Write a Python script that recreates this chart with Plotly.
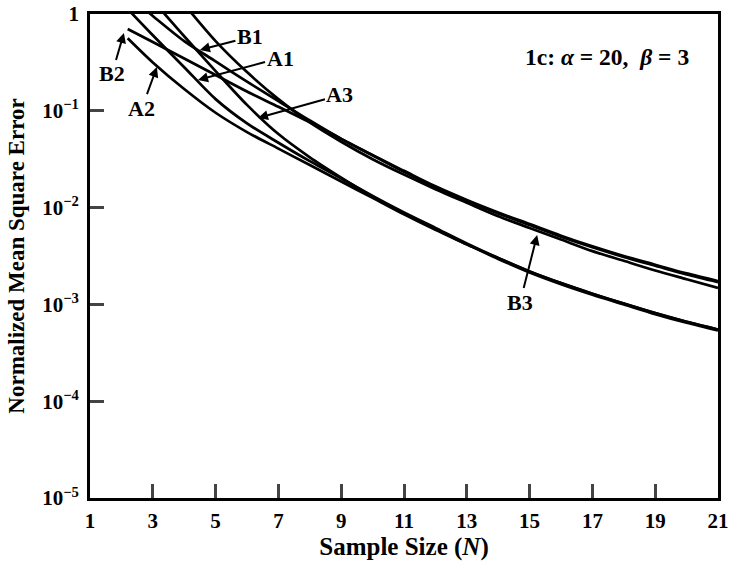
import math
import plotly.graph_objects as go

# Sample sizes (N) and normalized mean square error for each curve
x_A1 = [2, 3, 4, 5, 6, 7, 8, 9, 10, 11, 12, 13, 14, 15, 16, 17, 18, 19, 20, 21]
y_A1 = [1.318, 0.603, 0.282, 0.132, 0.0741, 0.0468, 0.0302, 0.0200, 0.0132, 0.00891,
        0.00617, 0.00427, 0.00302, 0.00219, 0.00166, 0.00129, 0.00102, 0.000813, 0.000661, 0.000550]

x_A2 = [2.2, 3, 4, 5, 6, 7, 8, 9, 10, 11, 12, 13, 14, 15, 16, 17, 18, 19, 20, 21]
y_A2 = [0.562, 0.316, 0.168, 0.0955, 0.0603, 0.0407, 0.0275, 0.0186, 0.0126, 0.00851,
        0.00589, 0.00417, 0.00295, 0.00214, 0.00162, 0.00126, 0.00100, 0.000794, 0.000646, 0.000537]

x_A3 = [3, 4, 5, 6, 7, 8, 9, 10, 11, 12, 13, 14, 15, 16, 17, 18, 19, 20, 21]
y_A3 = [1.380, 0.589, 0.257, 0.115, 0.0575, 0.0331, 0.0204, 0.0129, 0.00871, 0.00603,
        0.00417, 0.00302, 0.00219, 0.00166, 0.00129, 0.00102, 0.000813, 0.000661, 0.000550]

x_B1 = [2, 3, 4, 5, 6, 7, 8, 9, 10, 11, 12, 13, 14, 15, 16, 17, 18, 19, 20, 21]
y_B1 = [1.778, 0.955, 0.525, 0.324, 0.200, 0.126, 0.0794, 0.0513, 0.0347, 0.0234,
        0.0162, 0.0117, 0.00871, 0.00661, 0.00501, 0.00389, 0.00309, 0.00251, 0.00204, 0.00170]

x_B2 = [2.2, 3, 4, 5, 6, 7, 8, 9, 10, 11, 12, 13, 14, 15, 16, 17, 18, 19, 20, 21]
y_B2 = [0.700, 0.513, 0.347, 0.234, 0.158, 0.110, 0.0759, 0.0513, 0.0347, 0.0240,
        0.0166, 0.0120, 0.00891, 0.00676, 0.00513, 0.00398, 0.00316, 0.00257, 0.00209, 0.00174]

x_B3 = [4, 5, 6, 7, 8, 9, 10, 11, 12, 13, 14, 15, 16, 17, 18, 19, 20, 21]
y_B3 = [1.259, 0.525, 0.251, 0.132, 0.0759, 0.0479, 0.0316, 0.0219, 0.0155, 0.0112,
        0.00813, 0.00617, 0.00468, 0.00355, 0.00282, 0.00224, 0.00182, 0.00148]

x_ticks = [1, 3, 5, 7, 9, 11, 13, 15, 17, 19, 21]
y_tickvals = [1e-5, 1e-4, 1e-3, 1e-2, 1e-1, 1]
y_ticktext = ["10<sup>−5</sup>", "10<sup>−4</sup>", "10<sup>−3</sup>",
              "10<sup>−2</sup>", "10<sup>−1</sup>", "1"]

FONT = "Liberation Serif"
BOLD = dict(family=FONT, color="black", weight="bold")

fig = go.Figure()
for xs, ys, name in [(x_A1, y_A1, "A1"), (x_A2, y_A2, "A2"), (x_A3, y_A3, "A3"),
                     (x_B1, y_B1, "B1"), (x_B2, y_B2, "B2"), (x_B3, y_B3, "B3")]:
    fig.add_trace(go.Scatter(x=xs, y=ys, mode="lines", name=name,
                             line=dict(color="black", width=2.7, shape="spline", smoothing=0.8),
                             showlegend=False))

# curve labels with arrows: (label, tip N, tip value, dx px, dy px)
labels = [("B1", 4.50, 0.425, 50, -13), ("A1", 4.44, 0.208, 82, -22),
          ("A2", 3.13, 0.283, -15, 41), ("B2", 2.08, 0.637, -12, 41),
          ("A3", 6.35, 0.0843, 82, -23), ("B3", 15.24, 0.00521, -17, 67)]
for t, xv, yv, dx, dy in labels:
    fig.add_annotation(x=xv, y=math.log10(yv), text=t, showarrow=True,
                       ax=dx, ay=dy, arrowhead=2, arrowsize=1.0, arrowwidth=2,
                       arrowcolor="black", font=dict(size=22, **BOLD))

fig.add_annotation(x=(607 - 90) / 628, y=(498 - 57) / 484, xref="paper", yref="paper",
                   xanchor="center", yanchor="middle",
                   showarrow=False, text="1c: <i>α</i> = 20,  <i>β</i> = 3",
                   font=dict(size=23.5, **BOLD))

fig.update_layout(
    width=730, height=563,
    margin=dict(l=90, r=12, t=14, b=65, autoexpand=False),
    paper_bgcolor="white", plot_bgcolor="white",
    font=dict(family=FONT, size=21, color="black"),
    xaxis=dict(range=[1, 21], tickvals=x_ticks, ticks="inside", ticklen=14, tickwidth=2.5,
               showline=True, linewidth=2.8, linecolor="black", mirror=True,
               showgrid=False, zeroline=False, tickfont=dict(size=21, **BOLD),
               automargin=False,
               title=dict(text="Sample Size (<i>N</i>)", standoff=6,
                          font=dict(size=25, **BOLD)),
               ticklabelstandoff=2),
    yaxis=dict(type="log", range=[-5, 0], tickvals=y_tickvals, ticktext=y_ticktext,
               ticks="inside", ticklen=14, tickwidth=2.5,
               showline=True, linewidth=2.8, linecolor="black", mirror=True,
               showgrid=False, zeroline=False, tickfont=dict(size=21, **BOLD),
               ticklabelstandoff=4, automargin=False,
               title=dict(text="Normalized Mean Square Error", standoff=12,
                          font=dict(size=23, **BOLD))),
)

fig.write_html("out.html")
